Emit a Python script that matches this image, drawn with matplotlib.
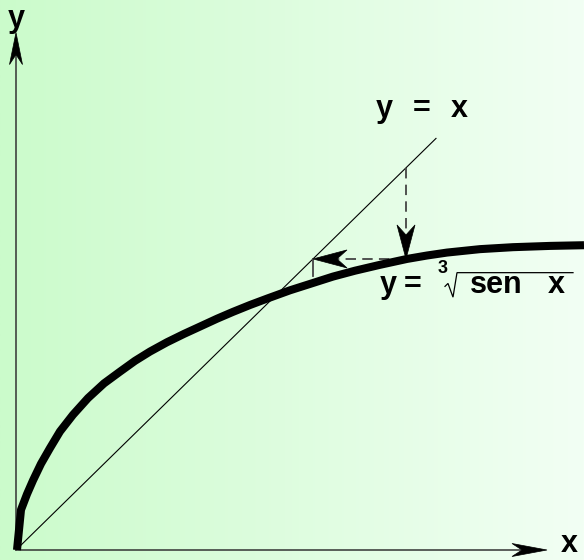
import numpy as np
import matplotlib
matplotlib.use("Agg")
import matplotlib.pyplot as plt
from matplotlib.patches import Polygon
from matplotlib.transforms import IdentityTransform

curva_x = [0.01, 0.05, 0.11, 0.17, 0.25, 0.34, 0.44, 0.57, 0.72, 0.88, 1.04,
           1.19, 1.34, 1.51, 1.68, 1.84, 2.01, 2.17, 2.34, 2.51, 2.74, 2.94,
           3.17, 3.39, 3.64, 3.91, 4.11, 4.31, 4.64, 4.97, 5.34, 5.68]
curva_y = [0.00, 0.41, 0.57, 0.71, 0.88, 1.04, 1.21, 1.38, 1.55, 1.70, 1.82,
           1.93, 2.025, 2.12, 2.205, 2.28, 2.36, 2.43, 2.50, 2.565, 2.65, 2.715,
           2.79, 2.85, 2.91, 2.97, 3.005, 3.035, 3.07, 3.09, 3.103, 3.11]

# reta y = x
reta_fim = 4.20

# iteração: x0 -> f(x0) -> f(f(x0))
x0 = 3.90
f_x0 = 2.97
f_f_x0 = 2.72

# eixos
eixo_x_fim = 5.31
eixo_y_fim = 5.28

plt.rcParams["font.family"] = ["Liberation Sans", "DejaVu Sans"]
plt.rcParams["lines.scale_dashes"] = False

fig = plt.figure(figsize=(5.84, 5.60), dpi=100)
ax = fig.add_axes([0, 0, 1, 1])
ax.set_xlim(-0.16, 5.68)
ax.set_ylim(-10 / 98, 550 / 98)
ax.axis("off")

# fundo em degradê verde
esq = np.array([203, 251, 203]) / 255
dir_ = np.array([242, 255, 244]) / 255
t = np.linspace(0, 1, 256)
grad = (esq[None, :] * (1 - t[:, None]) + dir_[None, :] * t[:, None])[None, :, :]
ax.imshow(grad, extent=[-0.16, 5.68, -10 / 98, 550 / 98], aspect="auto", zorder=0)


def ponta(tip, direcao, comp, larg, entalhe=10, cor="black"):
    """Ponta de seta com entalhe, desenhada em pixels."""
    px, py = ax.transData.transform(tip)
    d = np.array(direcao, dtype=float)
    d /= np.hypot(*d)
    n = np.array([-d[1], d[0]])
    p0 = np.array([px, py])
    pts = [p0,
           p0 - comp * d + larg * n,
           p0 - (comp - entalhe) * d,
           p0 - comp * d - larg * n]
    ax.add_patch(Polygon(pts, closed=True, facecolor=cor, edgecolor=cor,
                         lw=0.5, transform=IdentityTransform(), zorder=6))


fig.canvas.draw()

# eixos coordenados
ax.plot([0, eixo_x_fim - 0.2], [0, 0], color="#333333", lw=1.1, zorder=3)
ax.plot([0, 0], [0, eixo_y_fim - 0.2], color="#333333", lw=1.1, zorder=3)
ponta((eixo_x_fim, 0), (1, 0), 35, 6.5)
ponta((0, eixo_y_fim), (0, 1), 32, 6.5)

# reta y = x
ax.plot([0.02, reta_fim], [0.02, reta_fim], color="black", lw=0.8, zorder=4)

# curva
ax.plot(curva_x, curva_y, color="black", lw=5.8, solid_joinstyle="round",
        solid_capstyle="butt", zorder=5)

# setas tracejadas da iteração
tracejado = dict(color="#444444", lw=1.3, linestyle=(0, (7.5, 4.5)), zorder=4)
ax.plot([x0, x0], [x0, f_x0 + 0.2], **tracejado)
ponta((x0, f_x0), (0, -1), 34, 9)
ax.plot([x0, f_x0 + 0.2], [f_x0, f_x0], **tracejado)
ponta((f_x0, f_x0), (-1, 0), 34, 9)
ax.plot([f_x0, f_x0], [f_x0, f_f_x0 + 0.08], color="#444444", lw=1.3, zorder=4)

# rótulos
fonte = dict(fontsize=22, fontweight="bold", color="black", zorder=7)
ax.text(-0.08, 5.34, "y", ha="left", va="baseline", **fonte)
ax.text(5.45, -0.02, "x", ha="left", va="baseline", **fonte)

ax.text(3.68, 4.42, "y", ha="center", va="baseline", **fonte)
ax.text(4.06, 4.42, "=", ha="center", va="baseline", **fonte)
ax.text(4.43, 4.42, "x", ha="center", va="baseline", **fonte)

ax.text(3.725, 2.62, "y", ha="center", va="baseline", **fonte)
ax.text(3.97, 2.62, "=", ha="center", va="baseline", **fonte)
ax.text(4.27, 2.83, "3", ha="center", va="baseline", fontsize=13,
        fontweight="bold", zorder=7)
ax.text(4.805, 2.62, "sen", ha="center", va="baseline", **fonte)
ax.text(5.40, 2.62, "x", ha="center", va="baseline", **fonte)

# sinal de radical
rad_x = [4.29, 4.32, 4.37, 4.41, 5.57]
rad_y = [2.69, 2.72, 2.58, 2.83, 2.83]
ax.plot(rad_x, rad_y, color="black", lw=0.9, solid_joinstyle="miter", zorder=7)

fig.savefig("out.png", dpi=100)
